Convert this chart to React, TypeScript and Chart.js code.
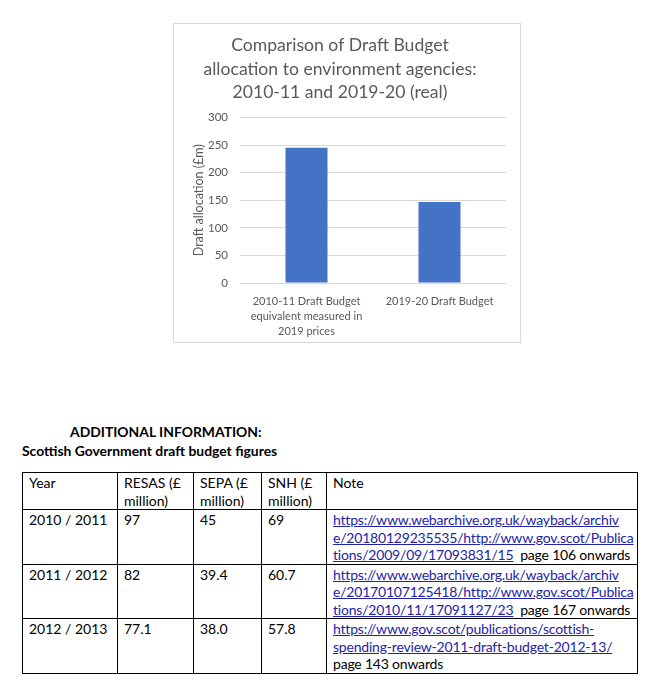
import React, { useEffect, useRef } from "react";
import { Chart, registerables } from "chart.js";

Chart.register(...registerables);

const chartTitle = [
  "Comparison of Draft Budget",
  "allocation to environment agencies:",
  "2010-11 and 2019-20 (real)",
];
const categories: string[][] = [
  ["2010-11 Draft Budget", "equivalent measured in", "2019 prices"],
  ["2019-20 Draft Budget"],
];
const allocation = [245, 147];
const yAxisTitle = "Draft allocation (£m)";
const yMin = 0;
const yMax = 300;
const yStep = 50;

const years = ["2010 / 2011", "2011 / 2012", "2012 / 2013"];
const resas = ["97", "82", "77.1"];
const sepa = ["45", "39.4", "38.0"];
const snh = ["69", "60.7", "57.8"];
const noteLinks: string[][] = [
  [
    "https://www.webarchive.org.uk/wayback/archiv",
    "e/20180129235535/http://www.gov.scot/Publica",
    "tions/2009/09/17093831/15",
  ],
  [
    "https://www.webarchive.org.uk/wayback/archiv",
    "e/20170107125418/http://www.gov.scot/Publica",
    "tions/2010/11/17091127/23",
  ],
  [
    "https://www.gov.scot/publications/scottish-",
    "spending-review-2011-draft-budget-2012-13/",
  ],
];
const notePages = ["page 106 onwards", "page 167 onwards", "page 143 onwards"];

const FONT = "Lato, 'Open Sans', sans-serif";
const GREY = "#595959";
const LINK = "#2323a8";

function BudgetChart() {
  const ref = useRef<HTMLCanvasElement | null>(null);
  useEffect(() => {
    if (!ref.current) return;
    const chart = new Chart(ref.current, {
      type: "bar",
      data: {
        labels: categories,
        datasets: [
          {
            data: allocation,
            backgroundColor: "#4472C4",
            borderWidth: 0,
            barPercentage: 0.316,
            categoryPercentage: 1,
          },
        ],
      },
      options: {
        animation: false,
        responsive: false,
        maintainAspectRatio: false,
        layout: { padding: { left: 0, right: 14, top: 0, bottom: 0 } },
        plugins: {
          legend: { display: false },
          tooltip: { enabled: false },
          title: {
            display: true,
            text: chartTitle,
            color: GREY,
            font: { family: FONT, size: 17.6, weight: "normal", lineHeight: 1.335 },
            padding: { top: 10, bottom: 13 },
          },
        },
        scales: {
          x: {
            grid: { display: false },
            border: { display: false },
            ticks: {
              color: GREY,
              font: { family: FONT, size: 11, lineHeight: 1.36 },
              padding: 3,
              maxRotation: 0,
              autoSkip: false,
            },
            afterFit: (s: any) => {
              s.height = 59;
            },
          },
          y: {
            min: yMin,
            max: yMax,
            border: { display: false },
            grid: { color: "#d9d9d9", drawTicks: false, lineWidth: 1 },
            ticks: {
              stepSize: yStep,
              color: GREY,
              font: { family: FONT, size: 11.5 },
              padding: 12,
            },
            title: {
              display: true,
              text: yAxisTitle,
              color: GREY,
              font: { family: FONT, size: 12.5, weight: "normal" },
              padding: { top: 17, bottom: 0 },
            },
            afterFit: (s: any) => {
              s.width = 66;
            },
          },
        },
      },
    });
    return () => chart.destroy();
  }, []);
  return <canvas ref={ref} width={346} height={318} style={{ display: "block", width: 346, height: 318 }} />;
}

export default function App() {
  const cell: React.CSSProperties = {
    border: "1px solid #000",
    padding: "1px 4px 0 6px",
    verticalAlign: "top",
    lineHeight: "17.5px",
    fontSize: 14,
    whiteSpace: "nowrap",
  };
  const colWidths = [95, 76, 68, 65, 311];
  const headerLines = [["Year"], ["RESAS (£", "million)"], ["SEPA (£", "million)"], ["SNH (£", "million)"], ["Note"]];
  return (
    <div
      style={{
        position: "absolute",
        left: 0,
        top: 0,
        width: 672,
        height: 692,
        background: "#fff",
        fontFamily: FONT,
        color: "#000",
        overflow: "hidden",
      }}
    >
      <div
        style={{
          position: "absolute",
          left: 173,
          top: 23,
          width: 348,
          height: 320,
          boxSizing: "border-box",
          border: "1px solid #d9d9d9",
          background: "#fff",
        }}
      >
        <BudgetChart />
      </div>
      <div style={{ position: "absolute", left: 70, top: 423, fontWeight: "bold", fontSize: 13.9, lineHeight: "18px" }}>
        ADDITIONAL INFORMATION:
      </div>
      <div style={{ position: "absolute", left: 22, top: 442, fontWeight: "bold", fontSize: 13.9, lineHeight: "18px" }}>
        Scottish Government draft budget figures
      </div>
      <table
        style={{
          position: "absolute",
          left: 22,
          top: 472,
          borderCollapse: "collapse",
          tableLayout: "fixed",
          width: 615,
        }}
      >
        <colgroup>
          {colWidths.map((w, i) => (
            <col key={i} style={{ width: w }} />
          ))}
        </colgroup>
        <tbody>
          <tr style={{ height: 36 }}>
            {headerLines.map((lines, i) => (
              <td key={i} style={cell}>
                {lines.map((l, j) => (
                  <div key={j}>{l}</div>
                ))}
              </td>
            ))}
          </tr>
          {years.map((y, r) => (
            <tr key={r} style={{ height: 54 }}>
              <td style={cell}>{y}</td>
              <td style={cell}>{resas[r]}</td>
              <td style={cell}>{sepa[r]}</td>
              <td style={cell}>{snh[r]}</td>
              <td style={{ ...cell, letterSpacing: -0.2 }}>
                {noteLinks[r].map((l, j) => {
                  const last = j === noteLinks[r].length - 1;
                  return (
                    <div key={j}>
                      <span style={{ color: LINK, textDecoration: "underline" }}>{l}</span>
                      {last && noteLinks[r].length === 3 ? <span>&nbsp;&nbsp;{notePages[r]}</span> : null}
                    </div>
                  );
                })}
                {noteLinks[r].length < 3 ? <div>{notePages[r]}</div> : null}
              </td>
            </tr>
          ))}
        </tbody>
      </table>
    </div>
  );
}
